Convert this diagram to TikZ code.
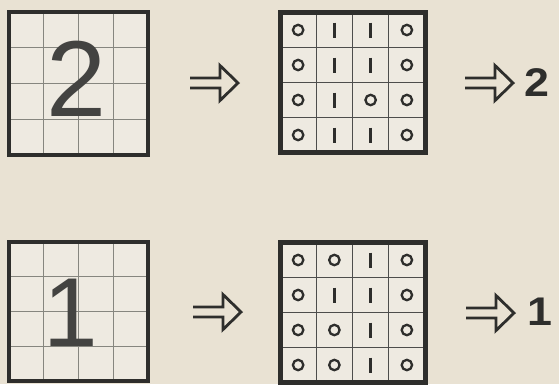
\documentclass[tikz,border=0pt]{standalone}
\usepackage{fontspec}
\setmainfont{Liberation Sans}
\definecolor{paper}{HTML}{E9E2D3}
\definecolor{cellc}{HTML}{EEEAE1}
\definecolor{ink}{HTML}{2E2E2C}
\definecolor{gridgray}{HTML}{86867F}
\tikzset{
  bigdigit/.style={inner sep=0pt, text=ink!90, font=\fontsize{#1}{#1}\selectfont},
  outdigit/.style={inner sep=0pt, text=ink, font=\fontsize{40}{40}\bfseries\selectfont, xscale=1.12},
  arrowline/.style={ink, line width=2.8pt, line join=miter},
  pics/openarrow/.style={code={
    \draw[arrowline] (0,-5) -- (30,-5) -- (30,-17.5) -- (48,0) -- (30,17.5) -- (30,5) -- (0,5);
  }},
  pics/cello/.style={code={\draw[ink, line width=2.3pt] (0,0) circle[radius=5.2];}},
  pics/celli/.style={code={\draw[ink, line width=2.8pt] (0,-7.5) -- (0,7.5);}},
}
\begin{document}
\begin{tikzpicture}[x=1pt,y=-1pt]
\fill[paper] (0,0) rectangle (559,384);
\useasboundingbox (0,0) rectangle (559,384);

% ---------- left grids ----------
\foreach \yy/\dy in {12/35.75, 242/34.75} {
  \begin{scope}[shift={(9,\yy)}]
    \fill[cellc] (0,0) rectangle (139,4*\dy);
    \foreach \i in {1,2,3} {
      \draw[gridgray, line width=1.3pt] (\i*34.75,0) -- (\i*34.75,4*\dy);
      \draw[gridgray, line width=1.3pt] (0,\i*\dy) -- (139,\i*\dy);
    }
    \draw[ink, line width=4pt] (0,0) rectangle (139,4*\dy);
  \end{scope}
}
\node[bigdigit=108] (two) at (77,79) {2};
\node[bigdigit=98] (one) at (70.5,313) {1};

% ---------- middle grids ----------
\foreach \yy/\cells in {12.5/{o,i,i,o,o,i,i,o,o,i,o,o,o,i,i,o}, 242.5/{o,o,i,o,o,i,i,o,o,o,i,o,o,o,i,o}} {
  \begin{scope}[shift={(280,\yy)}]
    \fill[cellc] (0,0) rectangle (145,140);
    \foreach \i in {1,2,3} {
      \draw[ink!85, line width=1.4pt] (\i*36.25,0) -- (\i*36.25,140);
      \draw[ink!85, line width=1.4pt] (0,\i*35) -- (145,\i*35);
    }
    \foreach \t [count=\k from 0] in \cells {
      \pgfmathtruncatemacro\cc{mod(\k,4)}
      \pgfmathtruncatemacro\rr{int(\k/4)}
      \pic at ({(\cc+0.5)*36.25},{(\rr+0.5)*35}) {cell\t};
    }
    \draw[ink, line width=5pt] (0,0) rectangle (145,140);
  \end{scope}
}

% ---------- arrows ----------
\pic at (190,83) {openarrow};
\pic at (465,83) {openarrow};
\pic at (193,312) {openarrow};
\pic at (466,313) {openarrow};

\node[outdigit] (outtwo) at (537,83) {2};
\node[outdigit] (outone) at (540,312) {1};
\end{tikzpicture}
\end{document}
